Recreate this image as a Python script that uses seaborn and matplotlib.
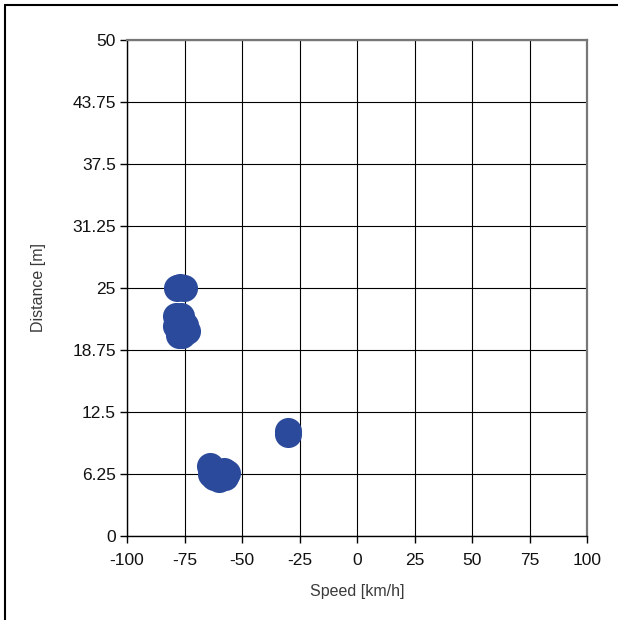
import matplotlib
matplotlib.use('Agg')
import matplotlib.pyplot as plt
import seaborn as sns
import pandas as pd
from matplotlib.lines import Line2D

# Valores (velocidade em km/h, distância em m)
speed = [-78.3, -76.8, -75.2,
         -78.5, -76.5, -78.5, -77.5, -76.0, -74.1, -75.0,
         -64.1, -63.7, -62.0, -60.0, -57.5, -56.7, -58.0, -61.0,
         -30.2, -29.8]
distance = [25.0, 25.1, 25.0,
            22.2, 22.2, 21.2, 20.3, 20.3, 20.7, 21.3,
            7.1, 6.2, 5.9, 5.7, 5.9, 6.4, 6.6, 6.5,
            10.6, 10.3]

x_ticks = [-100, -75, -50, -25, 0, 25, 50, 75, 100]
y_ticks = [0, 6.25, 12.5, 18.75, 25, 31.25, 37.5, 43.75, 50]
y_tick_labels = ['0', '6.25', '12.5', '18.75', '25', '31.25', '37.5', '43.75', '50']

data = pd.DataFrame({'speed': speed, 'distance': distance})

sns.set_theme(style='white')
plt.rcParams['font.family'] = ['Liberation Sans', 'DejaVu Sans']

fig = plt.figure(figsize=(6.18, 6.20), dpi=100)
ax = fig.add_axes([0.2055, 0.1355, 0.7445, 0.8])

sns.scatterplot(data=data, x='speed', y='distance', ax=ax, s=380,
                color='#2b4a9c', edgecolor='#2b4a9c', linewidth=0, zorder=3)

ax.set_xlim(-100, 100)
ax.set_ylim(0, 50)
ax.set_xticks(x_ticks)
ax.set_xticklabels([str(v) for v in x_ticks])
ax.set_yticks(y_ticks)
ax.set_yticklabels(y_tick_labels)

ax.grid(True, color='black', linewidth=0.8, zorder=1)
ax.set_axisbelow(True)

for side in ['left', 'bottom']:
    ax.spines[side].set_color('black')
    ax.spines[side].set_linewidth(1.0)
for side in ['top', 'right']:
    ax.spines[side].set_color('#777777')
    ax.spines[side].set_linewidth(1.6)

ax.tick_params(axis='both', direction='out', length=5, width=1,
               color='black', labelsize=12.5, labelcolor='#111111',
               left=True, bottom=True)
ax.tick_params(axis='x', pad=7)
ax.tick_params(axis='y', pad=3)

ax.set_xlabel('Speed [km/h]', fontsize=11.5, color='#3a3a3a')
ax.set_ylabel('Distance [m]', fontsize=11.5, color='#3a3a3a')
ax.xaxis.set_label_coords(0.5, -0.096)
ax.yaxis.set_label_coords(-0.176, 0.5)

# Moldura externa (esquerda e topo)
fig.add_artist(Line2D([5 / 618, 5 / 618], [0, 1 - 5 / 620],
                      transform=fig.transFigure, color='black', linewidth=1.5))
fig.add_artist(Line2D([5 / 618, 1], [1 - 5 / 620, 1 - 5 / 620],
                      transform=fig.transFigure, color='black', linewidth=1.5))

plt.savefig('out.png', dpi=100)
